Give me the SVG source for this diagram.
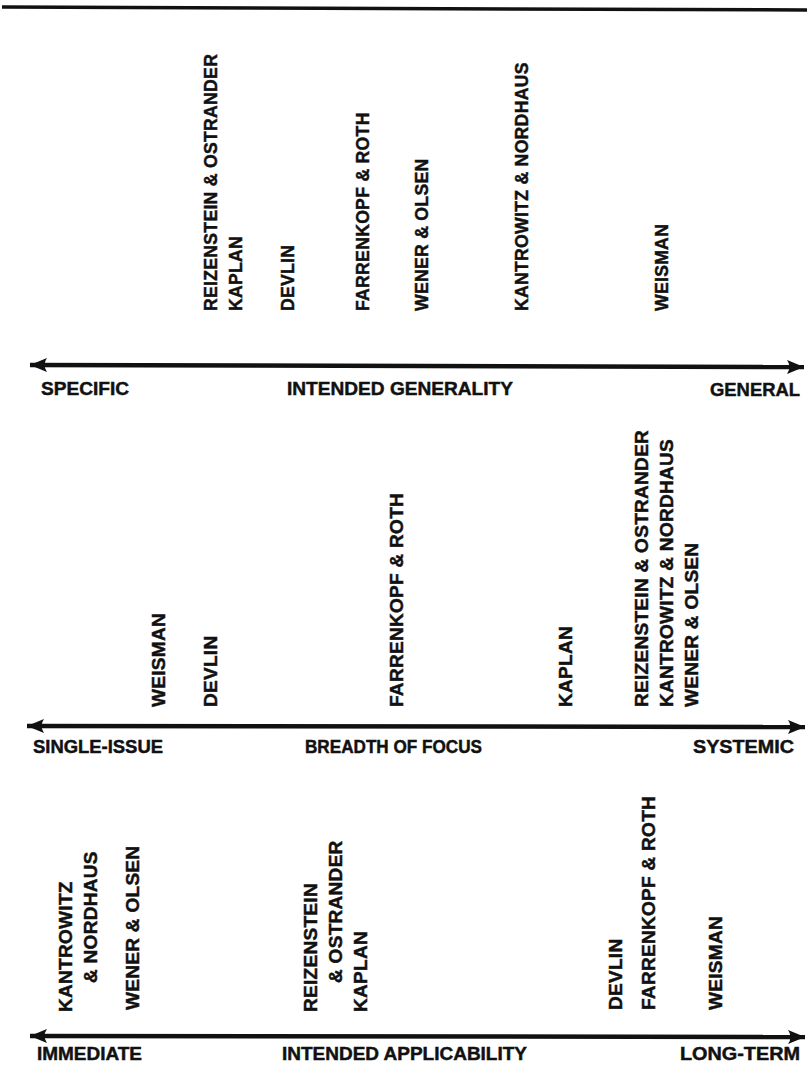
<svg xmlns="http://www.w3.org/2000/svg" width="807" height="1066" viewBox="0 0 807 1066">
<style>
  text { font-family: "Liberation Sans", Arial, sans-serif; font-weight: bold; fill: #111; stroke: #111; stroke-width: 0.45; }
  .v { font-size: 19px; letter-spacing: 0.3px; }
  .v1 { font-size: 17.6px; letter-spacing: 0.3px; }
  .h { font-size: 18px; }
  .axis { stroke: #111; stroke-width: 4.5; fill: none; marker-start: url(#ah); marker-end: url(#ah); }
</style>
<defs>
  <marker id="ah" markerUnits="userSpaceOnUse" markerWidth="20" markerHeight="16" refX="17" refY="7" orient="auto-start-reverse" viewBox="0 0 20 16">
    <path d="M0,0 Q5,7 0,14 L17,7 z" fill="#111"/>
  </marker>
</defs>
<rect width="807" height="1066" fill="#fff"/>
<line x1="2" y1="7" x2="807" y2="10" stroke="#111" stroke-width="3.5"/>

<g id="connectors">
  <line class="axis" x1="30" y1="365" x2="804" y2="367"/>
  <line class="axis" x1="27" y1="726" x2="805" y2="727"/>
  <line class="axis" x1="30" y1="1036" x2="805" y2="1037"/>
</g>

<g id="axis1-labels">
  <text class="h" x="41" y="395" textLength="88" lengthAdjust="spacingAndGlyphs">SPECIFIC</text>
  <text class="h" x="287" y="395" textLength="226" lengthAdjust="spacingAndGlyphs">INTENDED GENERALITY</text>
  <text class="h" x="710" y="396" textLength="90" lengthAdjust="spacingAndGlyphs">GENERAL</text>
</g>
<g id="axis1-items">
  <text class="v1" transform="translate(217,311) rotate(-90)">REIZENSTEIN &amp; OSTRANDER</text>
  <text class="v1" transform="translate(242,311) rotate(-90)">KAPLAN</text>
  <text class="v1" transform="translate(294,311) rotate(-90)">DEVLIN</text>
  <text class="v1" transform="translate(369,311) rotate(-90)">FARRENKOPF &amp; ROTH</text>
  <text class="v1" transform="translate(428,311) rotate(-90)">WENER &amp; OLSEN</text>
  <text class="v1" transform="translate(528,311) rotate(-90)">KANTROWITZ &amp; NORDHAUS</text>
  <text class="v1" transform="translate(668,311) rotate(-90)">WEISMAN</text>
</g>

<g id="axis2-labels">
  <text class="h" x="33" y="753" textLength="130" lengthAdjust="spacingAndGlyphs">SINGLE-ISSUE</text>
  <text class="h" x="305" y="753" textLength="177" lengthAdjust="spacingAndGlyphs">BREADTH OF FOCUS</text>
  <text class="h" x="693" y="753" textLength="101" lengthAdjust="spacingAndGlyphs">SYSTEMIC</text>
</g>
<g id="axis2-items">
  <text class="v" transform="translate(165,707) rotate(-90)">WEISMAN</text>
  <text class="v" transform="translate(217,707) rotate(-90)">DEVLIN</text>
  <text class="v" transform="translate(403,707) rotate(-90)">FARRENKOPF &amp; ROTH</text>
  <text class="v" transform="translate(572,707) rotate(-90)">KAPLAN</text>
  <text class="v" transform="translate(648,707) rotate(-90)">REIZENSTEIN &amp; OSTRANDER</text>
  <text class="v" transform="translate(673,707) rotate(-90)">KANTROWITZ &amp; NORDHAUS</text>
  <text class="v" transform="translate(698,707) rotate(-90)">WENER &amp; OLSEN</text>
</g>

<g id="axis3-labels">
  <text class="h" x="37" y="1060" textLength="105" lengthAdjust="spacingAndGlyphs">IMMEDIATE</text>
  <text class="h" x="282" y="1060" textLength="245" lengthAdjust="spacingAndGlyphs">INTENDED APPLICABILITY</text>
  <text class="h" x="680" y="1060" textLength="120" lengthAdjust="spacingAndGlyphs">LONG-TERM</text>
</g>
<g id="axis3-items">
  <text class="v" transform="translate(72,1012) rotate(-90)">KANTROWITZ</text>
  <text class="v" transform="translate(97,983) rotate(-90)">&amp; NORDHAUS</text>
  <text class="v" transform="translate(139,1010) rotate(-90)">WENER &amp; OLSEN</text>
  <text class="v" transform="translate(317,1012) rotate(-90)">REIZENSTEIN</text>
  <text class="v" transform="translate(342,983) rotate(-90)">&amp; OSTRANDER</text>
  <text class="v" transform="translate(367,1012) rotate(-90)">KAPLAN</text>
  <text class="v" transform="translate(622,1010) rotate(-90)">DEVLIN</text>
  <text class="v" transform="translate(655,1010) rotate(-90)">FARRENKOPF &amp; ROTH</text>
  <text class="v" transform="translate(722,1010) rotate(-90)">WEISMAN</text>
</g>
</svg>
